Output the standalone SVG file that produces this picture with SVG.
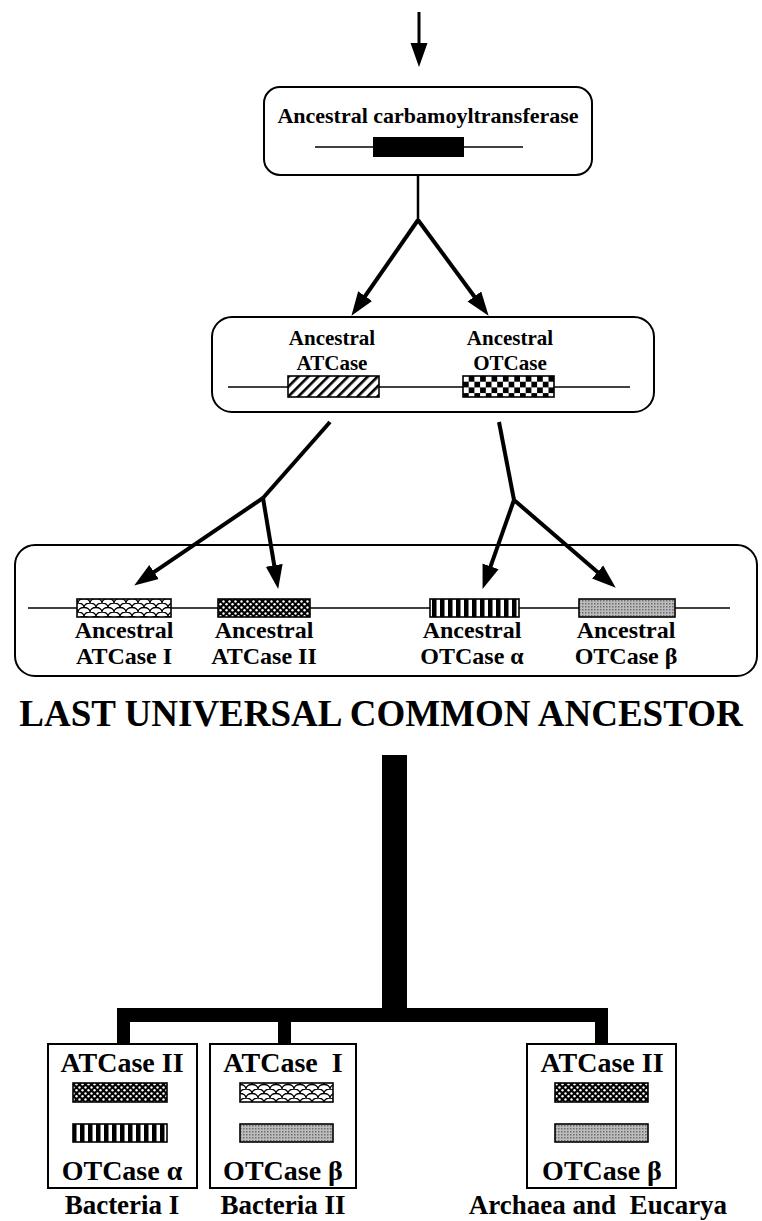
<svg xmlns="http://www.w3.org/2000/svg" width="762" height="1221" viewBox="0 0 762 1221">
<style>
text{font-family:"Liberation Serif","Times New Roman",serif;font-weight:bold;fill:#000;text-anchor:middle}
.box{fill:none;stroke:#000;stroke-width:2}
.gene{stroke:#000;stroke-width:1.6;fill:none}
.arr{stroke:#000;stroke-width:4;fill:none;marker-end:url(#ah)}
.t1{font-size:22px}.t2{font-size:21px}.t3{font-size:24px}.t4{font-size:28px}.t5{font-size:27px}
</style>
<defs>
<marker id="ah" markerUnits="userSpaceOnUse" markerWidth="26" markerHeight="20" refX="9" refY="10" orient="auto">
<path d="M0,1.5 L24,10 L0,18.5 Z" fill="#000"/>
</marker>
<pattern id="hatch" patternUnits="userSpaceOnUse" width="7" height="7" patternTransform="rotate(45)">
<rect width="7" height="7" fill="#fff"/><rect width="2.6" height="7" fill="#000"/>
</pattern>
<pattern id="checker" patternUnits="userSpaceOnUse" x="463" y="376" width="11.4" height="11.4">
<rect width="11.4" height="11.4" fill="#000"/><rect x="0" y="0" width="5.7" height="5.7" fill="#fff"/><rect x="5.7" y="5.7" width="5.7" height="5.7" fill="#fff"/>
</pattern>
<pattern id="scale" patternUnits="userSpaceOnUse" width="12" height="9">
<rect width="12" height="9" fill="#fff"/>
<path d="M0,4.5 A6,4.5 0 0 1 12,4.5 M-6,9 A6,4.5 0 0 1 6,9 M6,9 A6,4.5 0 0 1 18,9 M-6,0 A6,4.5 0 0 1 6,0 M6,0 A6,4.5 0 0 1 18,0" fill="none" stroke="#000" stroke-width="1.3"/>
</pattern>
<pattern id="dots" patternUnits="userSpaceOnUse" width="6" height="6">
<rect width="6" height="6" fill="#000"/><circle cx="1.5" cy="1.5" r="1.2" fill="#fff"/><circle cx="4.5" cy="4.3" r="1.2" fill="#fff"/>
</pattern>
<pattern id="vstripe" patternUnits="userSpaceOnUse" width="8" height="8">
<rect width="8" height="8" fill="#fff"/><rect width="4.5" height="8" fill="#000"/>
</pattern>
<pattern id="stipple" patternUnits="userSpaceOnUse" width="3" height="3">
<rect width="3" height="3" fill="#bcbcbc"/><rect width="1.5" height="1.5" fill="#6e6e6e"/>
</pattern>
</defs>

<g id="connectors">
<line x1="419" y1="12" x2="419" y2="52" stroke="#000" stroke-width="3" marker-end="url(#ah)"/>
<line x1="418" y1="175" x2="418" y2="221" stroke="#000" stroke-width="2.5"/>
<polyline class="arr" points="418,220 360,303.5"/>
<polyline class="arr" points="418,220 479.7,303.7"/>
<line x1="330" y1="422" x2="263" y2="498" stroke="#000" stroke-width="4"/>
<polyline class="arr" points="263,498 146.6,577.1"/>
<polyline class="arr" points="263,498 275.7,574.2"/>
<line x1="499" y1="422" x2="514" y2="500" stroke="#000" stroke-width="4"/>
<polyline class="arr" points="514,500 487.6,574.8"/>
<polyline class="arr" points="514,500 604.4,577.9"/>
<rect x="382" y="755" width="25" height="260" fill="#000"/>
<rect x="117" y="1008" width="491" height="14" fill="#000"/>
<rect x="117" y="1008" width="13" height="37" fill="#000"/>
<rect x="278" y="1008" width="13" height="37" fill="#000"/>
<rect x="595" y="1008" width="13" height="37" fill="#000"/>
</g>

<g id="node-ancestral-carbamoyltransferase">
<rect class="box" x="264" y="87" width="328" height="88" rx="16"/>
<text class="t1" x="428" y="123">Ancestral carbamoyltransferase</text>
<line class="gene" x1="315" y1="147" x2="523" y2="147"/>
<rect x="373" y="137" width="91" height="20" fill="#000"/>
</g>

<g id="node-ancestral-atcase-otcase">
<rect class="box" x="212" y="317" width="442" height="95" rx="20"/>
<text class="t2" x="332" y="345">Ancestral</text>
<text class="t2" x="332" y="370">ATCase</text>
<text class="t2" x="510" y="345">Ancestral</text>
<text class="t2" x="510" y="370">OTCase</text>
<line class="gene" x1="228" y1="387" x2="630" y2="387"/>
<rect x="288" y="376" width="91" height="21" fill="url(#hatch)" stroke="#000" stroke-width="1.6"/>
<rect x="463" y="376" width="91" height="21" fill="url(#checker)" stroke="#000" stroke-width="1.6"/>
</g>

<g id="node-four-genes">
<rect class="box" x="15" y="545" width="742" height="131" rx="20"/>
<line class="gene" x1="28" y1="608" x2="730" y2="608"/>
<rect x="77" y="599" width="94" height="18" fill="url(#scale)" stroke="#000" stroke-width="1.6"/>
<rect x="218" y="599" width="92" height="18" fill="url(#dots)" stroke="#000" stroke-width="1.6"/>
<rect x="430" y="599" width="89" height="18" fill="url(#vstripe)" stroke="#000" stroke-width="1.6"/>
<rect x="579" y="599" width="96" height="18" fill="url(#stipple)" stroke="#000" stroke-width="1.6"/>
<text class="t3" x="124" y="638">Ancestral</text>
<text class="t3" x="124" y="664">ATCase I</text>
<text class="t3" x="264" y="638">Ancestral</text>
<text class="t3" x="264" y="664">ATCase II</text>
<text class="t3" x="472" y="638">Ancestral</text>
<text class="t3" x="472" y="664">OTCase α</text>
<text class="t3" x="626" y="638">Ancestral</text>
<text class="t3" x="626" y="664">OTCase β</text>
</g>

<g id="luca">
<text x="381" y="726" style="font-size:37px">LAST UNIVERSAL COMMON ANCESTOR</text>
</g>

<g id="node-bacteria-1">
<rect class="box" x="48" y="1044" width="149" height="144"/>
<text class="t4" x="122" y="1072">ATCase II</text>
<rect x="73" y="1083" width="94" height="19" fill="url(#dots)" stroke="#000" stroke-width="1.6"/>
<rect x="73" y="1124" width="94" height="18" fill="url(#vstripe)" stroke="#000" stroke-width="1.6"/>
<text class="t4" x="122" y="1180">OTCase α</text>
<text class="t5" x="122" y="1214">Bacteria I</text>
</g>

<g id="node-bacteria-2">
<rect class="box" x="210" y="1044" width="146" height="144"/>
<text class="t4" x="283" y="1072" xml:space="preserve">ATCase  I</text>
<rect x="240" y="1083" width="93" height="19" fill="url(#scale)" stroke="#000" stroke-width="1.6"/>
<rect x="240" y="1124" width="93" height="18" fill="url(#stipple)" stroke="#000" stroke-width="1.6"/>
<text class="t4" x="283" y="1180">OTCase β</text>
<text class="t5" x="283" y="1214">Bacteria II</text>
</g>

<g id="node-archaea-eucarya">
<rect class="box" x="527" y="1044" width="149" height="144"/>
<text class="t4" x="602" y="1072">ATCase II</text>
<rect x="555" y="1083" width="93" height="19" fill="url(#dots)" stroke="#000" stroke-width="1.6"/>
<rect x="555" y="1124" width="93" height="18" fill="url(#stipple)" stroke="#000" stroke-width="1.6"/>
<text class="t4" x="602" y="1180">OTCase β</text>
<text class="t5" x="598" y="1214" xml:space="preserve">Archaea and  Eucarya</text>
</g>
</svg>
